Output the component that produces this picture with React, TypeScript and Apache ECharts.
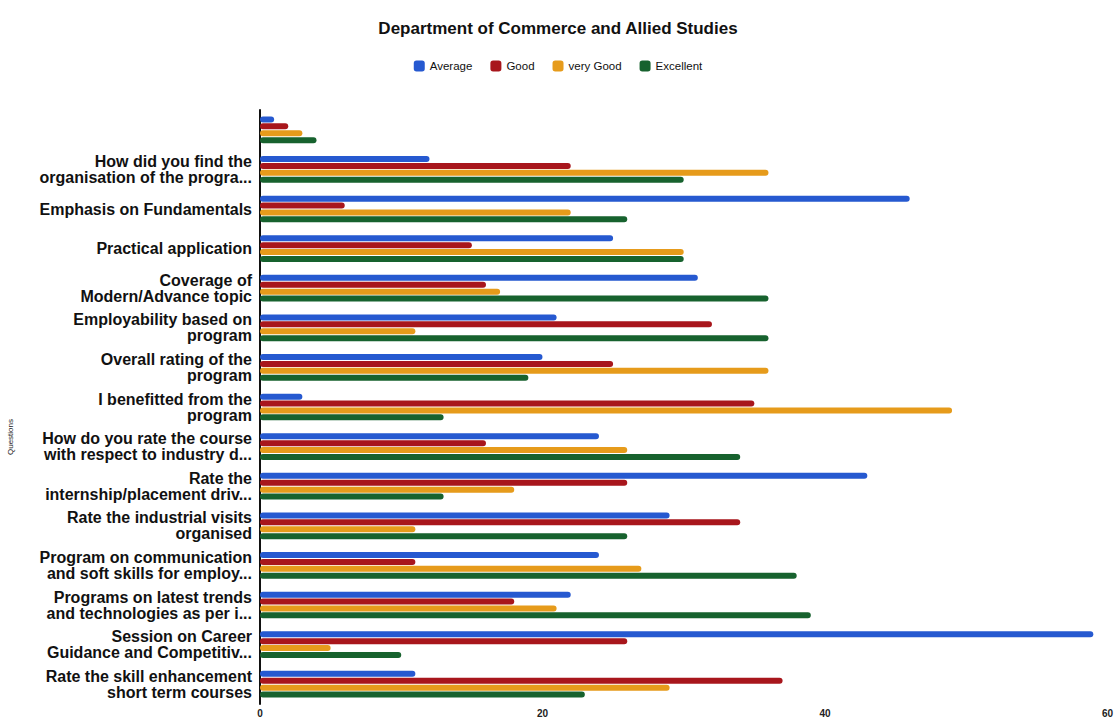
import React, { useEffect, useRef } from "react";
import * as echarts from "echarts";

const categories = [
  "",
  "How did you find the\norganisation of the progra...",
  "Emphasis on Fundamentals",
  "Practical application",
  "Coverage of\nModern/Advance topic",
  "Employability based on\nprogram",
  "Overall rating of the\nprogram",
  "I benefitted from the\nprogram",
  "How do you rate the course\nwith respect to industry d...",
  "Rate the\ninternship/placement driv...",
  "Rate the industrial visits\norganised",
  "Program on communication\nand soft skills for employ...",
  "Programs on latest trends\nand technologies as per i...",
  "Session on Career\nGuidance and Competitiv...",
  "Rate the skill enhancement\nshort term courses",
];

const average = [1, 12, 46, 25, 31, 21, 20, 3, 24, 43, 29, 24, 22, 59, 11];
const good = [2, 22, 6, 15, 16, 32, 25, 35, 16, 26, 34, 11, 18, 26, 37];
const veryGood = [3, 36, 22, 30, 17, 11, 36, 49, 26, 18, 11, 27, 21, 5, 29];
const excellent = [4, 30, 26, 30, 36, 36, 19, 13, 34, 13, 26, 38, 39, 10, 23];

const xTicks = [0, 20, 40, 60];

const seriesNames = ["Average", "Good", "very Good", "Excellent"];
const seriesColors = ["#2659d0", "#a8161c", "#e69b1b", "#17622e"];

export default function App() {
  const ref = useRef<HTMLDivElement>(null);
  useEffect(() => {
    if (!ref.current) return;
    const chart = echarts.init(ref.current, null, { renderer: "svg" });
    const values = [average, good, veryGood, excellent];
    chart.setOption({
      animation: false,
      backgroundColor: "#ffffff",
      title: {
        text: "Department of Commerce and Allied Studies",
        left: "center",
        top: 15,
        textStyle: {
          fontFamily: "Liberation Sans",
          fontWeight: "bold",
          fontSize: 17,
          color: "#111",
        },
      },
      legend: {
        top: 55,
        left: "center",
        icon: "roundRect",
        itemWidth: 11,
        itemHeight: 11,
        itemGap: 18,
        textStyle: {
          fontFamily: "Liberation Sans",
          fontSize: 11.5,
          color: "#111",
        },
        data: seriesNames,
      },
      grid: {
        left: 260,
        right: 6,
        top: 110,
        bottom: 18,
        containLabel: false,
      },
      xAxis: {
        type: "value",
        min: xTicks[0],
        max: xTicks[xTicks.length - 1],
        interval: 20,
        splitLine: { show: false },
        axisLine: { show: false },
        axisTick: { show: false },
        axisLabel: {
          fontFamily: "Liberation Sans",
          fontSize: 10,
          fontWeight: "bold",
          color: "#222",
          margin: 4,
        },
      },
      yAxis: {
        type: "category",
        inverse: true,
        data: categories,
        axisLine: { show: true, lineStyle: { color: "#111", width: 2 } },
        axisTick: { show: false },
        axisLabel: {
          fontFamily: "Liberation Sans",
          fontSize: 16,
          fontWeight: "bold",
          color: "#111",
          lineHeight: 16,
          margin: 8,
        },
      },
      graphic: [
        {
          type: "text",
          x: 6,
          y: 455,
          rotation: Math.PI / 2,
          style: {
            text: "Questions",
            fontFamily: "Liberation Sans",
            fontSize: 8,
            fill: "#222",
          },
        },
      ],
      series: seriesNames.map((name, i) => ({
        name,
        type: "bar",
        data: values[i],
        barWidth: 6,
        barGap: "15%",
        itemStyle: { color: seriesColors[i], borderRadius: 3 },
      })),
    });
    return () => chart.dispose();
  }, []);
  return (
    <div
      ref={ref}
      style={{ position: "fixed", left: 0, top: 0, width: 1116, height: 722 }}
    />
  );
}
